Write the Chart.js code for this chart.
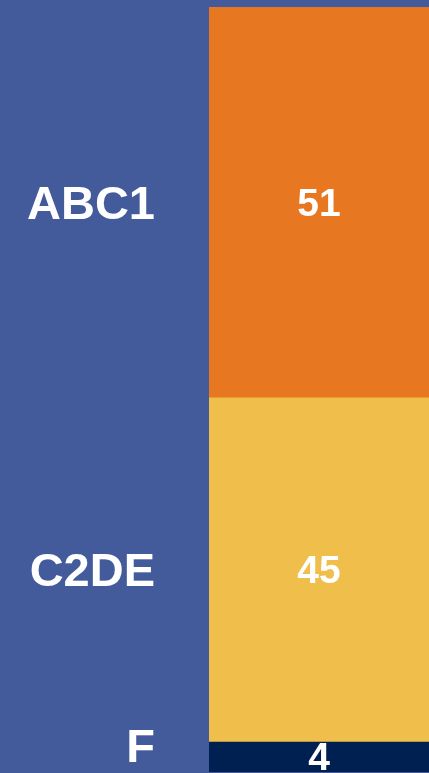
<!DOCTYPE html>
<html>
<head>
<meta charset="utf-8">
<script src="https://cdn.jsdelivr.net/npm/chart.js@4.4.0/dist/chart.umd.min.js"></script>
<style>
  html, body { margin: 0; padding: 0; background: #435A9B; }
  #wrap { width: 429px; height: 773px; }
</style>
</head>
<body>
<div id="wrap"><canvas id="chart"></canvas></div>
<script>
// Social grade split, single stacked column
const categories = ['ABC1', 'C2DE', 'F'];
const values = [51, 45, 4];
const segmentColors = ['#E87722', '#F0BE4B', '#002052'];

const FONT = '"Liberation Sans", Arial, sans-serif';

// Draws category names at the left and values inside each segment
const labelPlugin = {
    id: 'segmentLabels',
    afterDatasetsDraw(chart) {
        const ctx = chart.ctx;
        const area = chart.chartArea;
        const y = chart.scales.y;
        let start = 0;
        ctx.save();
        ctx.fillStyle = '#ffffff';
        ctx.textBaseline = 'middle';
        categories.forEach((cat, i) => {
            const end = start + values[i];
            const top = y.getPixelForValue(start);
            const bottom = y.getPixelForValue(end);
            const mid = (top + bottom) / 2;

            // category name, kept inside the canvas
            ctx.font = 'bold 47px ' + FONT;
            ctx.textAlign = 'right';
            const catY = Math.min(mid, chart.height - 28);
            ctx.fillText(cat, 155, catY + 4);

            // value in the segment
            ctx.font = 'bold 39px ' + FONT;
            ctx.textAlign = 'center';
            ctx.fillText(String(values[i]), (area.left + area.right) / 2, mid + 3);
            start = end;
        });
        ctx.restore();
    }
};

new Chart(document.getElementById('chart'), {
    type: 'bar',
    data: {
        labels: [''],
        datasets: categories.map((cat, i) => ({
            label: cat,
            data: [values[i]],
            backgroundColor: segmentColors[i],
            borderWidth: 0,
            barPercentage: 1,
            categoryPercentage: 1
        }))
    },
    options: {
        responsive: true,
        maintainAspectRatio: false,
        animation: false,
        layout: { padding: { left: 209, top: 7, bottom: 1, right: 0 } },
        plugins: {
            legend: { display: false },
            tooltip: { enabled: false }
        },
        scales: {
            x: { stacked: true, display: false },
            y: {
                stacked: true,
                display: false,
                reverse: true,
                min: 0,
                max: values.reduce((a, b) => a + b, 0)
            }
        }
    },
    plugins: [labelPlugin]
});
</script>
</body>
</html>
